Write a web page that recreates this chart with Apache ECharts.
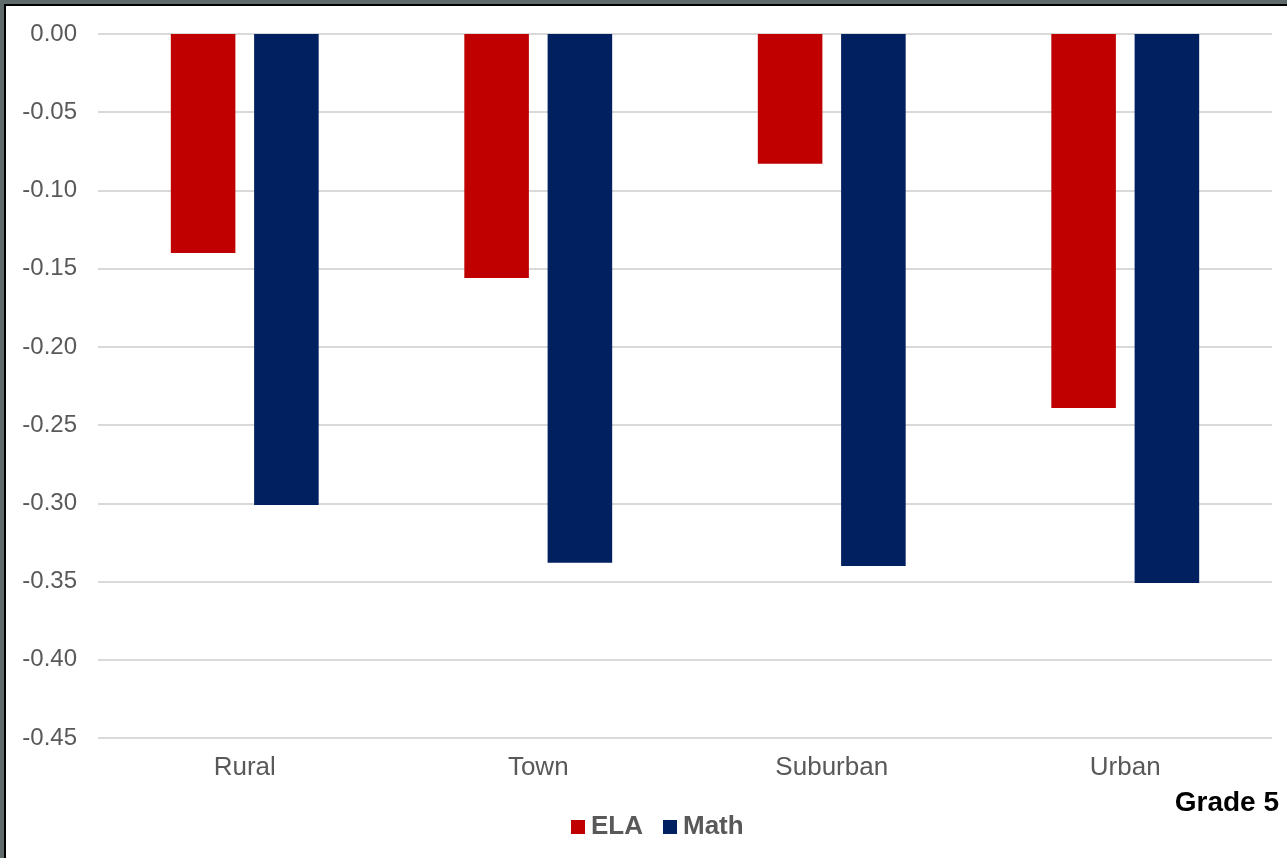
<!DOCTYPE html>
<html>
<head>
<meta charset="utf-8">
<script src="https://cdn.jsdelivr.net/npm/echarts@6/dist/echarts.min.js"></script>
<style>
  html, body { margin: 0; padding: 0; background: #5f6b6b; }
  #frame { position: absolute; left: 4px; top: 4px; width: 1283px; height: 854px;
    border-top: 2px solid #000; border-left: 2px solid #000; background: #fff; box-sizing: border-box; }
  #chart { position: absolute; left: -6px; top: -6px; width: 1287px; height: 858px; }
</style>
</head>
<body>
<div id="frame"><div id="chart"></div></div>
<script>
// values
var categories = ['Rural', 'Town', 'Suburban', 'Urban'];
var ela = [-0.140, -0.156, -0.083, -0.239];
var math = [-0.301, -0.338, -0.340, -0.351];

var myChart = echarts.init(document.getElementById('chart'));

myChart.setOption({
  animation: false,
  textStyle: { fontFamily: 'Liberation Sans, Arial, sans-serif' },
  grid: { left: 98, right: 15, top: 34, bottom: 120 },
  title: {
    text: 'Grade 5', right: 3, top: 784,
    textStyle: { fontSize: 28, fontWeight: 'bold', color: '#000', fontFamily: 'Liberation Sans, Arial, sans-serif' }
  },
  legend: {
    data: ['ELA', 'Math'], left: 566, top: 809,
    itemWidth: 14, itemHeight: 14, itemGap: 20,
    icon: 'rect',
    textStyle: { fontSize: 26, fontWeight: 'bold', color: '#595959', padding: [0, 0, 0, 1] }
  },
  xAxis: {
    type: 'category',
    data: categories,
    position: 'bottom',
    axisLine: { show: false, onZero: false },
    axisTick: { show: false },
    axisLabel: { fontSize: 26, color: '#595959', margin: 17 }
  },
  yAxis: {
    type: 'value',
    min: -0.45, max: 0, interval: 0.05,
    axisLabel: {
      fontSize: 24, color: '#595959', margin: 21,
      formatter: function (v) { return v.toFixed(2); }
    },
    splitLine: { lineStyle: { color: '#d9d9d9', width: 2 } }
  },
  series: [
    { name: 'ELA', type: 'bar', data: ela, barWidth: '22%', barGap: '29%', itemStyle: { color: '#c00000' } },
    { name: 'Math', type: 'bar', data: math, barWidth: '22%', itemStyle: { color: '#002060' } }
  ]
});
</script>
</body>
</html>
